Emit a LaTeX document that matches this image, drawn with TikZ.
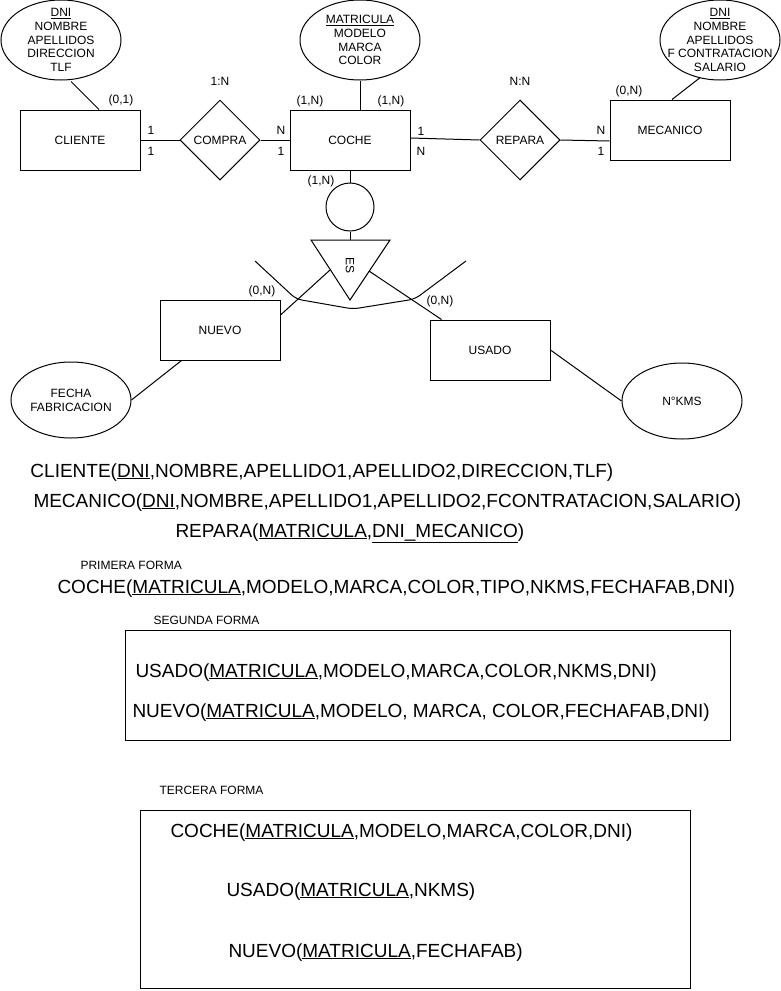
\documentclass[tikz,border=0pt]{standalone}
\usepackage{fontspec}
\setmainfont{Liberation Sans}
\usetikzlibrary{shapes.geometric,calc}
\newcommand{\smf}{\fontsize{12}{13.75}\selectfont}
\newcommand{\bgf}{\fontsize{19}{22}\selectfont}
\begin{document}
\begin{tikzpicture}[x=1pt,y=-1pt,line width=1pt,
  ent/.style={draw,rectangle,minimum width=120pt,minimum height=60pt,inner sep=0pt,font=\smf},
  rel/.style={draw,diamond,minimum width=80pt,minimum height=80pt,inner sep=0pt,font=\smf},
  attr/.style={draw,ellipse,inner sep=0pt,minimum width=120pt,minimum height=80pt},
  txt/.style={inner sep=0pt,align=center,font=\smf},
  lbl/.style={inner sep=0pt,font=\smf},
  big/.style={inner sep=0pt,anchor=base west,font=\bgf},
  small/.style={inner sep=0pt,anchor=base west,font=\smf},
  frame/.style={draw,rectangle,inner sep=0pt}
]
\useasboundingbox (0,0) rectangle (781,991);

% ---- ER diagram ----
\node[attr] (cliattr) at (61,40) {};
\node[txt] at (cliattr.center) {\underline{DNI}\\NOMBRE\\APELLIDOS\\DIRECCION\\TLF};
\node[ent] (cli) at (80,140) {CLIENTE};
\node[rel] (compra) at (220,140) {COMPRA};
\node[ent] (coche) at (350,140) {COCHE};
\node[attr] (cocheattr) at (360,40) {};
\node[txt] at (cocheattr.center) {\underline{MATRICULA}\\MODELO\\MARCA\\COLOR};
\node[rel] (repara) at (520,140) {REPARA};
\node[ent] (mec) at (670,130) {MECANICO};
\node[attr] (mecattr) at (720,40) {};
\node[txt] at (mecattr.center) {\underline{DNI}\\NOMBRE\\APELLIDOS\\F CONTRATACION\\SALARIO};

\node[draw,circle,minimum size=48pt,inner sep=0pt] (circ) at (350,207) {};
\coordinate (triA) at (311,240);
\coordinate (triB) at (390,240);
\coordinate (triC) at (350,300);
\coordinate (triTop) at (350,240);
\coordinate (triL) at (330,270);
\coordinate (triR) at (369,271);
\draw (triA) -- (triB) -- (triC) -- cycle;
\node[lbl,rotate=-90] (es) at (350,265) {ES};

\node[ent] (nuevo) at (220,330) {NUEVO};
\node[ent] (usado) at (490,350) {USADO};
\node[attr,minimum height=76pt] (fecha) at (71,400) {};
\node[txt] at (fecha.center) {FECHA\\FABRICACION};
\node[attr,minimum height=76pt] (nkms) at (682,401) {};
\node[txt] at (nkms.center) {N°KMS};

% connectors
\draw ($(cliattr.south)+(10,1)$) -- ($(cli.north)+(19,0)$);
\draw (cli.east) -- (compra.west);
\draw (compra.east) -- (coche.west);
\draw (cocheattr.south) -- ($(coche.north)+(10,0)$);
\draw ($(coche.east)+(0,-2)$) -- (repara.west);
\draw (repara.east) -- ($(mec.west)+(0,11)$);
\draw ($(mecattr.center)+(-20,37.7)$) -- ($(mec.north)+(2,0)$);
\draw (coche.south) -- (circ.north);
\draw (circ.south) -- (triTop);
\draw (triL) -- ($(nuevo.east)+(0,-15)$);
\draw (triR) -- ($(usado.north west)+(12,0)$);
\draw[rounded corners=6pt] (255,261) -- (296,299) -- (353,309) -- (415,299) -- (466,261);
\draw ($(nuevo.south west)+(22,0)$) -- (fecha.east);
\draw (usado.east) -- (nkms.west);

% labels
\node[lbl] at (220,81) {1:N};
\node[lbl] at (520,81) {N:N};
\node[lbl] at (121,100) {(0,1)};
\node[lbl] at (151,130) {1};
\node[lbl] at (151,151) {1};
\node[lbl] at (281,130) {N};
\node[lbl] at (281,151) {1};
\node[lbl] at (310,101) {(1,N)};
\node[lbl] at (391,101) {(1,N)};
\node[lbl] at (421,131) {1};
\node[lbl] at (421,151) {N};
\node[lbl] at (601,130) {N};
\node[lbl] at (601,151) {1};
\node[lbl] at (629,91) {(0,N)};
\node[lbl] at (321,181) {(1,N)};
\node[lbl] at (262,291) {(0,N)};
\node[lbl] at (440,301) {(0,N)};

% ---- relational text ----
\node[big] at (30,477) {CLIENTE(\underline{DNI},NOMBRE,APELLIDO1,APELLIDO2,DIRECCION,TLF)};
\node[big] at (33,507) {MECANICO(\underline{DNI},NOMBRE,APELLIDO1,APELLIDO2,FCONTRATACION,SALARIO)};
\node[big] at (175,537) {REPARA(\underline{MATRICULA},\underline{DNI\_MECANICO})};
\node[small] at (80,569) {PRIMERA FORMA};
\node[big] at (57,593) {COCHE(\underline{MATRICULA},MODELO,MARCA,COLOR,TIPO,NKMS,FECHAFAB,DNI)};

\node[small] at (153,624) {SEGUNDA FORMA};
\node[frame,minimum width=605pt,minimum height=110pt] (box2) at (427.5,685) {};
\node[big] at (135,677) {USADO(\underline{MATRICULA},MODELO,MARCA,COLOR,NKMS,DNI)};
\node[big] at (132,717) {NUEVO(\underline{MATRICULA},MODELO, MARCA, COLOR,FECHAFAB,DNI)};

\node[small] at (159,794) {TERCERA FORMA};
\node[frame,minimum width=550pt,minimum height=178pt] (box3) at (415,899) {};
\node[big] at (170,837) {COCHE(\underline{MATRICULA},MODELO,MARCA,COLOR,DNI)};
\node[big] at (226,896) {USADO(\underline{MATRICULA},NKMS)};
\node[big] at (228,957) {NUEVO(\underline{MATRICULA},FECHAFAB)};
\end{tikzpicture}
\end{document}
